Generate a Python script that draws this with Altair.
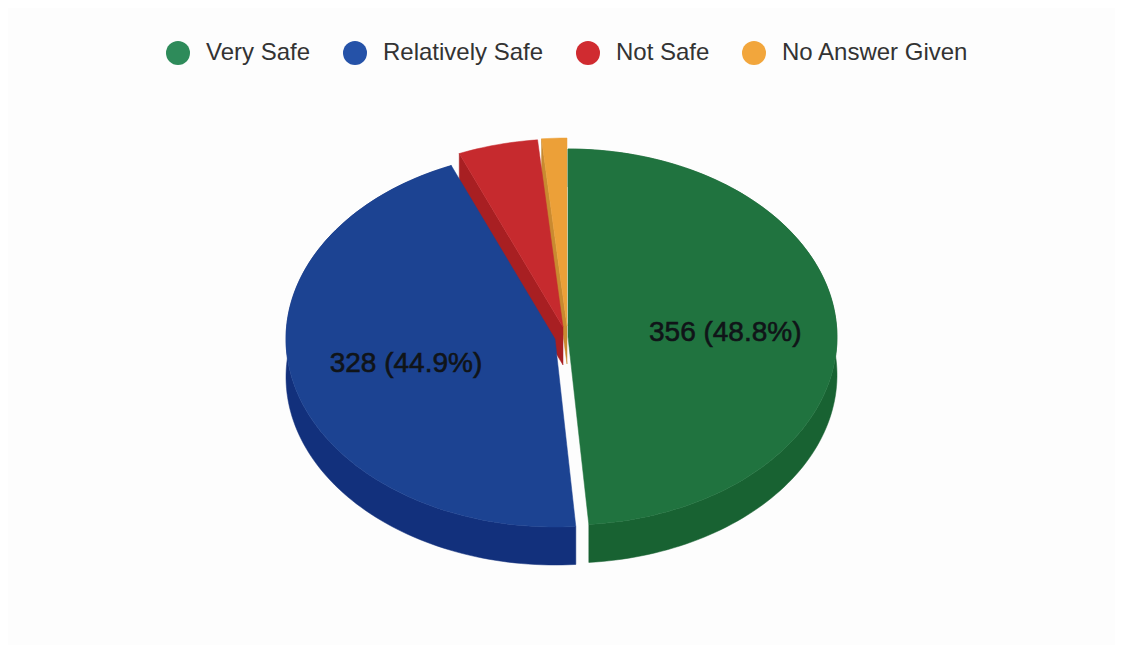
import math
import altair as alt
import pandas as pd

categories = ["Very Safe", "Relatively Safe", "Not Safe", "No Answer Given"]
values = [356, 328, 35, 11]
slice_labels = ["356 (48.8%)", "328 (44.9%)", "", ""]
legend_colors = ["#2e8b5a", "#2552a8", "#d02b30", "#f2a63c"]
face_colors = ["#20733f", "#1c4392", "#c62a2e", "#eca038"]
wall_colors = ["#186232", "#12307c", "#a81f22", "#c98a30"]
# apex of each slice's top face, in page pixels (exploded pie)
apex_x = [568, 555, 563, 567]
apex_y = [337, 339, 327, 326]
label_radius = [0.585, 0.57, 0, 0]
# which radial side walls are visible: start edge, end edge
start_wall = [False, False, True, True]

W, H = 1107, 637
RX, RY, DEPTH = 269, 188, 38
total = sum(values)
x_scale = alt.Scale(domain=[0, W / RX], range=[0, W], nice=False, zero=False)
y_scale = alt.Scale(domain=[0, H / RY], range=[H, 0], nice=False, zero=False)


def ux(px, s=0.0):
    return (px - 8) / RX + s


def uy(py, c=0.0, dy=0):
    return (H - (py - 8) - dy) / RY + c


def polygon(points):
    return pd.DataFrame([{"x": p[0], "y": p[1], "i": i} for i, p in enumerate(points + points[:1])])


def shape(points, color):
    return (
        alt.Chart(polygon(points))
        .mark_line(fill=color, stroke=color, strokeWidth=0.5, clip=False)
        .encode(
            x=alt.X("x:Q", scale=x_scale, axis=None),
            y=alt.Y("y:Q", scale=y_scale, axis=None),
            order="i:Q",
        )
    )


angles = []
start = 0.0
for v in values:
    angles.append((start, start + v / total * 2 * math.pi))
    start += v / total * 2 * math.pi


def arc_points(k, dy=0):
    a0, a1 = angles[k]
    n = max(4, int((a1 - a0) * 40))
    out = []
    for j in range(n + 1):
        t = a0 + (a1 - a0) * j / n
        out.append((ux(apex_x[k], math.sin(t)), uy(apex_y[k], math.cos(t), dy)))
    return out


def slice_layers(k):
    top = arc_points(k)
    bottom = arc_points(k, DEPTH)
    apex = (ux(apex_x[k]), uy(apex_y[k]))
    apex_low = (ux(apex_x[k]), uy(apex_y[k], 0, DEPTH))
    out = []
    if start_wall[k]:
        out.append(shape([apex, top[0], bottom[0], apex_low], wall_colors[k]))
    else:
        out.append(shape(top + bottom[::-1], wall_colors[k]))
    out.append(shape([apex] + top, face_colors[k]))
    return out


layers = []
for k in [3, 2, 0, 1]:
    layers += slice_layers(k)

# data labels
rows = []
for k, lab in enumerate(slice_labels):
    if lab:
        mid = sum(angles[k]) / 2
        rows.append({
            "x": ux(apex_x[k], label_radius[k] * math.sin(mid)),
            "y": uy(apex_y[k], label_radius[k] * math.cos(mid)),
            "t": lab,
        })
text = (
    alt.Chart(pd.DataFrame(rows))
    .mark_text(font="Liberation Sans", fontSize=28, color="#101418", stroke="#101418", strokeWidth=0.6,
               align="center", baseline="middle")
    .encode(x=alt.X("x:Q", scale=x_scale, axis=None), y=alt.Y("y:Q", scale=y_scale, axis=None), text="t:N")
)

# legend
legend_layer = (
    alt.Chart(pd.DataFrame({"category": categories, "x": [0.0] * 4, "y": [0.0] * 4}))
    .mark_point(filled=True, opacity=0)
    .encode(
        x=alt.X("x:Q", scale=x_scale, axis=None),
        y=alt.Y("y:Q", scale=y_scale, axis=None),
        color=alt.Color(
            "category:N",
            scale=alt.Scale(domain=categories, range=legend_colors),
            sort=categories,
            legend=alt.Legend(
                title=None,
                orient="none",
                legendX=158,
                legendY=33,
                columns=4,
                columnPadding=32,
                symbolType="circle",
                symbolSize=576,
                symbolOpacity=1,
                symbolStrokeWidth=0,
                labelFont="Liberation Sans",
                labelFontSize=24,
                labelColor="#333333",
                labelOffset=16,
                labelLimit=400,
                padding=0,
            ),
        ),
    )
)

chart = (
    alt.layer(*layers, text, legend_layer)
    .properties(width=W, height=H, background="#fdfdfd", padding=0, autosize=alt.AutoSizeParams(type="none"))
    .configure_view(stroke=None)
)

chart.save("out.html", embed_options={"renderer": "svg", "actions": False})
